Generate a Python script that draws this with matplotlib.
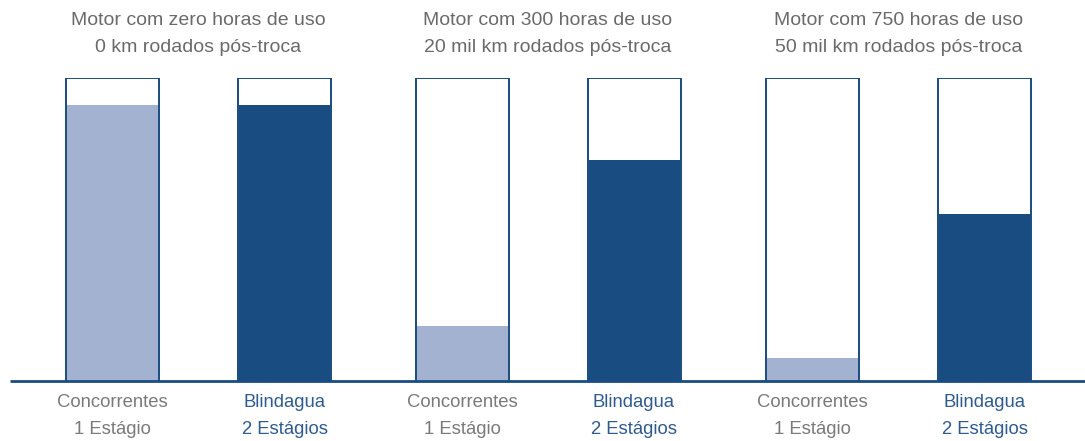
import numpy as np
import matplotlib.pyplot as plt

plt.rcParams['font.family'] = ['Liberation Sans', 'DejaVu Sans']

group_titles = [
    "Motor com zero horas de uso\n0 km rodados pós-troca",
    "Motor com 300 horas de uso\n20 mil km rodados pós-troca",
    "Motor com 750 horas de uso\n50 mil km rodados pós-troca",
]
concorrentes = [91, 18, 7.5]
blindagua = [91, 73, 55]
labels = ["Concorrentes\n1 Estágio", "Blindagua\n2 Estágios"]

DARK = "#194c80"
LIGHT = "#a3b2d1"
GRAY = "#7a7a7a"
BLUE_TXT = "#2f5b8f"


def main():
    fig = plt.figure(figsize=(10.85, 4.41), dpi=100)
    ax = fig.add_axes([0, 60 / 441, 1, 303 / 441])
    ax.set_xlim(0, 1085)
    ax.set_ylim(0, 100)
    ax.axis("off")

    centers = np.array([198.5, 548, 898.5])
    off = 86
    w = 93

    for i, c in enumerate(centers):
        for x, v, col, lab, tc in [
            (c - off, concorrentes[i], LIGHT, labels[0], GRAY),
            (c + off, blindagua[i], DARK, labels[1], BLUE_TXT),
        ]:
            ax.bar(x, 100, width=w, color="white", edgecolor=DARK, linewidth=1.4, zorder=1)
            ax.bar(x, v, width=w - 2, color=col, linewidth=0, zorder=2)
            ax.text(x, -11.6, lab, ha="center", va="center", fontsize=13.3, color=tc,
                    linespacing=1.8, clip_on=False)
        ax.text(c, 114.5, group_titles[i], ha="center", va="center", fontsize=14,
                color="#6a6a6a", linespacing=1.75, clip_on=False)

    ax.plot([10, 1085], [0, 0], color=DARK, linewidth=2, zorder=3, clip_on=False,
            solid_capstyle="butt")

    fig.savefig("out.png", dpi=100)


if __name__ == "__main__":
    main()
